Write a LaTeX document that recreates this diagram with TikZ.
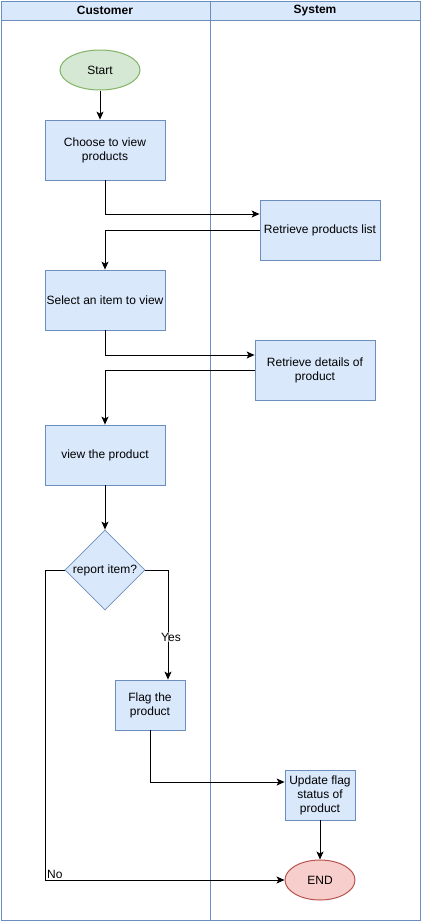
\documentclass[tikz,border=0pt]{standalone}
\usepackage{fontspec}
\setmainfont{Liberation Sans}
\usetikzlibrary{arrows.meta,shapes.geometric,calc}
\definecolor{bfill}{HTML}{DAE8FC}
\definecolor{bline}{HTML}{6C8EBF}
\definecolor{gfill}{HTML}{D5E8D4}
\definecolor{gline}{HTML}{82B366}
\definecolor{rfill}{HTML}{F8CECC}
\definecolor{rline}{HTML}{B85450}
\tikzset{
  every node/.style={font=\fontsize{12}{14}\selectfont, align=center},
  proc/.style={draw=bline, fill=bfill, line width=0.8pt, inner sep=1pt, minimum width=#1},
  proc/.default=120pt,
  term/.style={ellipse, draw=#1, line width=1pt, inner sep=0pt, minimum width=80pt, minimum height=40pt},
  dec/.style={diamond, draw=bline, fill=bfill, line width=0.8pt, inner sep=0pt, minimum width=80pt, minimum height=80pt},
  arr/.style={draw=black, line width=0.9pt, -{Stealth[length=8pt,width=7pt,inset=2pt]}},
  lane/.style={draw=bline, line width=0.9pt},
}
\begin{document}
\begin{tikzpicture}[x=1pt,y=-1pt]
\useasboundingbox (0,0) rectangle (421,922);
% lanes
\fill[white] (1,1) rectangle (420,920);
\draw[lane, fill=bfill] (1,1) rectangle (210,20);
\draw[lane, fill=bfill] (210,1) rectangle (420,20);
\draw[lane] (1,1) rectangle (420,920);
\draw[lane] (210,20) -- (210,920);
\node[font=\fontsize{12}{14}\selectfont\bfseries] (hc) at (105,10.5) {Customer};
\node[font=\fontsize{12}{14}\selectfont\bfseries] (hs) at (315,10.5) {System};
% nodes
\node[term=gline, fill=gfill] (start) at (100,70) {Start};
\node[proc, minimum height=60pt] (b1) at (105,150) {Choose to view\\products};
\node[proc, minimum height=60pt] (b2) at (320,230) {Retrieve products list};
\node[proc, minimum height=60pt] (b3) at (105,300) {Select an item to view};
\node[proc, minimum height=60pt] (b4) at (315,370) {Retrieve details of\\product};
\node[proc, minimum height=60pt] (b5) at (105,455) {view the product};
\node[dec] (d) at (105,570) {report item?};
\node[proc=70pt, minimum height=50pt] (b6) at (150,705) {Flag the\\product};
\node[proc=70pt, minimum height=50pt] (b7) at (320,795) {Update flag\\status of\\product};
\node[term=rline, fill=rfill, minimum width=70pt] (e) at (320,880) {END};
\coordinate (nc) at (45,880);
% edges
\draw[arr] (start.south) -- (start.south |- b1.north);
\draw[arr] (b1.south) |- ([yshift=16pt]b2.west);
\draw[arr] (b2.west) -| (b3.north);
\draw[arr] (b3.south) |- ([yshift=15pt]b4.west);
\draw[arr] (b4.west) -| (b5.north);
\draw[arr] (b5) -- (d);
\draw[arr] (d.east) -| ([xshift=18pt]b6.north);
\node[fill=white, fill opacity=0.6, text opacity=1, inner sep=0.5pt] (yes) at (171,637) {Yes};
\draw[arr] (b6.south) |- ([yshift=13pt]b7.west);
\draw[arr] (b7) -- (e);
\draw[arr] (d.west) -| (nc) -- (e.west);
\node[anchor=south west, inner sep=1pt] (no) at (46,880) {No};
\end{tikzpicture}
\end{document}
